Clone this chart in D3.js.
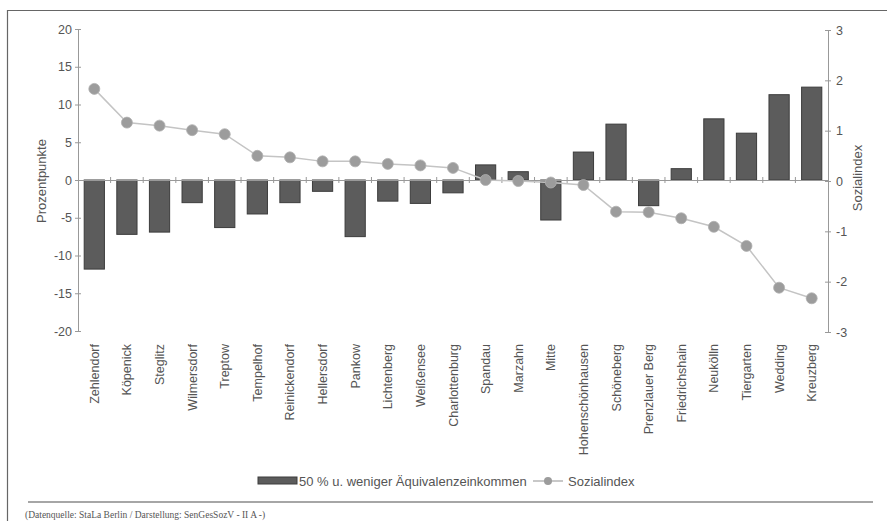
<!DOCTYPE html>
<html><head><meta charset="utf-8">
<script src="https://cdn.jsdelivr.net/npm/d3@7"></script>
<style>body{margin:0;background:#fff}svg{display:block}</style>
</head><body>
<script>
const categories = ["Zehlendorf","Köpenick","Steglitz","Wilmersdorf","Treptow","Tempelhof","Reinickendorf","Hellersdorf","Pankow","Lichtenberg","Weißensee","Charlottenburg","Spandau","Marzahn","Mitte","Hohenschönhausen","Schöneberg","Prenzlauer Berg","Friedrichshain","Neukölln","Tiergarten","Wedding","Kreuzberg"];
const barValues = [-11.8,-7.2,-6.9,-3.0,-6.3,-4.5,-3.0,-1.5,-7.5,-2.8,-3.1,-1.7,2.0,1.1,-5.3,3.7,7.4,-3.4,1.5,8.1,6.2,11.3,12.3];
const indexValues = [1.83,1.16,1.10,1.01,0.93,0.50,0.47,0.39,0.39,0.34,0.31,0.26,0.02,0.0,-0.03,-0.08,-0.61,-0.62,-0.74,-0.91,-1.29,-2.12,-2.33];
const leftTicks = [20,15,10,5,0,-5,-10,-15,-20];
const rightTicks = [3,2,1,0,-1,-2,-3];
const barLabel = "50 % u. weniger Äquivalenzeinkommen";
const lineLabel = "Sozialindex";

const W=887,H=521;
const svg=d3.select("body").append("svg").attr("width",W).attr("height",H);
const font="Liberation Sans, Arial, sans-serif";
const txt="#555";

// frame
svg.append("path").attr("d","M7.5,521 L7.5,10.5 L887,10.5").attr("fill","none").attr("stroke","#666").attr("stroke-width",1.2);
svg.append("line").attr("x1",28).attr("x2",873).attr("y1",502).attr("y2",502).attr("stroke","#888").attr("stroke-width",1.5);

const x=d3.scaleBand().domain(categories).range([78,828]).paddingInner(0.38).paddingOuter(0.19);
const yL=d3.scaleLinear().domain([-20,20]).range([331,29]);
const yR=d3.scaleLinear().domain([-3,3]).range([332,30]);

const axisColor="#999";
const gL=svg.append("g").attr("transform","translate(78,0)")
  .call(d3.axisLeft(yL).tickValues(leftTicks).tickSize(3).tickSizeOuter(0).tickFormat(d=>d));
gL.selectAll(".tick line").attr("x2",3).attr("x1",-3);
const gR=svg.append("g").attr("transform","translate(828,0)")
  .call(d3.axisRight(yR).tickValues(rightTicks).tickSize(3).tickSizeOuter(0).tickFormat(d=>d));
gR.selectAll(".tick line").attr("x1",-3).attr("x2",3);
[gL,gR].forEach(g=>{
  g.select(".domain").attr("stroke",axisColor);
  g.selectAll(".tick line").attr("stroke",axisColor);
  g.selectAll(".tick text").attr("fill",txt).style("font-family",font).style("font-size","12.5px");
});
gL.selectAll(".tick text").attr("x",-6);
gR.selectAll(".tick text").attr("x",8);

// bars
svg.append("g").selectAll("rect").data(categories).join("rect")
  .attr("x",d=>x(d)).attr("width",x.bandwidth())
  .attr("y",(d,i)=>yL(Math.max(0,barValues[i])))
  .attr("height",(d,i)=>Math.abs(yL(barValues[i])-yL(0)))
  .attr("fill","#5c5c5c").attr("stroke","#3c3c3c").attr("stroke-width",1);

// zero axis with category ticks
const gX=svg.append("g").attr("transform",`translate(0,${yL(0)})`)
  .call(d3.axisBottom(x).tickSize(0).tickFormat(""));
gX.select(".domain").attr("stroke",axisColor);
const bounds=d3.range(1,categories.length).map(i=>x(categories[i])-x.step()*x.paddingInner()/2);
gX.selectAll(".bt").data(bounds).join("line").attr("class","bt")
  .attr("x1",d=>d).attr("x2",d=>d).attr("y1",-3).attr("y2",3).attr("stroke",axisColor);

// line
const line=d3.line().x((d,i)=>x(categories[i])+x.bandwidth()/2).y(d=>yR(d));
svg.append("path").datum(indexValues).attr("d",line).attr("fill","none").attr("stroke","#c4c4c4").attr("stroke-width",1.5);
svg.append("g").selectAll("circle").data(indexValues).join("circle")
  .attr("cx",(d,i)=>x(categories[i])+x.bandwidth()/2).attr("cy",d=>yR(d)).attr("r",5.5)
  .attr("fill","#9c9c9c").attr("stroke","#b0b0b0").attr("stroke-width",0.8);

// category labels
svg.append("g").selectAll("text").data(categories).join("text")
  .attr("transform",d=>`translate(${x(d)+x.bandwidth()/2+4.5},344) rotate(-90)`)
  .attr("text-anchor","end").attr("fill",txt).style("font-family",font).style("font-size","12.5px")
  .text(d=>d);

// axis titles
svg.append("text").attr("transform","translate(46,181) rotate(-90)").attr("text-anchor","middle")
  .attr("fill",txt).style("font-family",font).style("font-size","13px").text("Prozentpunkte");
svg.append("text").attr("transform","translate(862,178) rotate(-90)").attr("text-anchor","middle")
  .attr("fill",txt).style("font-family",font).style("font-size","13px").text("Sozialindex");

// legend
const lg=svg.append("g");
lg.append("rect").attr("x",258).attr("y",477).attr("width",39).attr("height",7).attr("fill","#5c5c5c").attr("stroke","#3c3c3c");
lg.append("text").attr("x",299).attr("y",485.5).attr("fill",txt).style("font-family",font).style("font-size","13px").text(barLabel);
lg.append("line").attr("x1",533).attr("x2",563).attr("y1",481).attr("y2",481).attr("stroke","#aaa").attr("stroke-width",1.3);
lg.append("circle").attr("cx",548).attr("cy",481).attr("r",4).attr("fill","#9c9c9c");
lg.append("text").attr("x",568).attr("y",485.5).attr("fill",txt).style("font-family",font).style("font-size","13px").text(lineLabel);

// footnote
svg.append("text").attr("x",25).attr("y",518).attr("fill","#555").style("font-family","Liberation Serif, Times New Roman, serif").style("font-size","9.5px")
  .text("(Datenquelle: StaLa Berlin / Darstellung: SenGesSozV - II A -)");
</script>
</body></html>
